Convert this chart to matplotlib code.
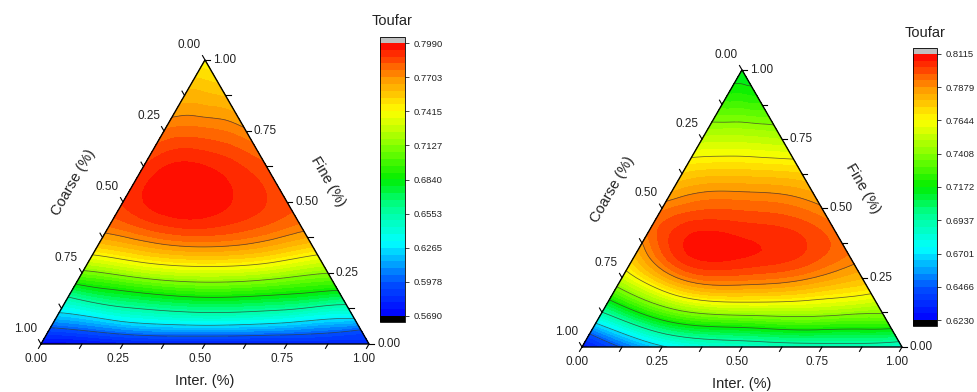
import numpy as np
import matplotlib
matplotlib.use("Agg")
import matplotlib.pyplot as plt
from matplotlib.tri import Triangulation, UniformTriRefiner
from matplotlib.colors import LinearSegmentedColormap
from matplotlib.transforms import offset_copy

plt.rcParams["font.family"] = ["Liberation Sans", "DejaVu Sans"]

# positions along each row of constant Fine: 0 = Coarse edge, 1 = Fine edge
row_t = [0.0, 0.25, 0.5, 0.75, 1.0]

# left panel
left_fine = [0.00, 0.04, 0.10, 0.17, 0.25, 0.35, 0.50, 0.65, 0.80, 0.90]
left_vals = [
    [0.572, 0.577, 0.578, 0.580, 0.584],
    [0.589, 0.602, 0.607, 0.603, 0.593],
    [0.621, 0.641, 0.649, 0.644, 0.633],
    [0.658, 0.678, 0.687, 0.683, 0.673],
    [0.708, 0.723, 0.730, 0.725, 0.713],
    [0.757, 0.768, 0.773, 0.768, 0.756],
    [0.788, 0.797, 0.797, 0.791, 0.784],
    [0.786, 0.792, 0.791, 0.787, 0.781],
    [0.770, 0.771, 0.770, 0.769, 0.766],
    [0.758, 0.758, 0.757, 0.756, 0.755],
]
left_apex = 0.742
left_range = (0.5690, 0.7990)
left_cb_labels = ["0.5690", "0.5978", "0.6265", "0.6553", "0.6840",
                  "0.7127", "0.7415", "0.7703", "0.7990"]

# right panel
right_fine = [0.00, 0.04, 0.10, 0.17, 0.25, 0.35, 0.45, 0.56, 0.68, 0.80, 0.90]
right_vals = [
    [0.628, 0.668, 0.684, 0.688, 0.684],
    [0.643, 0.690, 0.702, 0.706, 0.704],
    [0.679, 0.722, 0.733, 0.736, 0.733],
    [0.717, 0.757, 0.768, 0.765, 0.757],
    [0.755, 0.790, 0.795, 0.790, 0.779],
    [0.783, 0.808, 0.808, 0.804, 0.794],
    [0.795, 0.803, 0.802, 0.800, 0.793],
    [0.783, 0.788, 0.788, 0.787, 0.783],
    [0.765, 0.766, 0.766, 0.765, 0.764],
    [0.743, 0.743, 0.743, 0.742, 0.741],
    [0.724, 0.724, 0.724, 0.723, 0.723],
]
right_apex = 0.712
right_range = (0.6230, 0.8115)
right_cb_labels = ["0.6230", "0.6466", "0.6701", "0.6937", "0.7172",
                   "0.7408", "0.7644", "0.7879", "0.8115"]

H3 = np.sqrt(3) / 2
W, H = 977, 392

cmap = LinearSegmentedColormap.from_list("origin_rainbow", [
    (0.00, "#0000ff"), (0.12, "#0050ff"), (0.27, "#00ffff"),
    (0.40, "#00ff90"), (0.50, "#00ee00"), (0.62, "#80ff00"),
    (0.75, "#ffff00"), (0.87, "#ff9900"), (1.00, "#ff0000")])
cmap.set_under("#000000")
cmap.set_over("#c0c0c0")


def tern_xy(fine, inter):
    return inter + fine / 2, fine * H3


def build(fines, vals, apex):
    xs, ys, zs = [], [], []
    for f, row in zip(fines, vals):
        for t, v in zip(row_t, row):
            x, y = tern_xy(f, t * (1 - f))
            xs.append(x); ys.append(y); zs.append(v)
    xs.append(0.5); ys.append(H3); zs.append(apex)
    return np.array(xs), np.array(ys), np.array(zs)


def draw(fig, rect, crect, fines, vals, apex, vrange, cb_labels, title_y):
    x0, yb, side = rect
    ax = fig.add_axes([x0 / W, (H - yb) / H, side / W, side * H3 / H])
    ax.set_xlim(0, 1)
    ax.set_ylim(0, H3)
    ax.axis("off")

    x, y, z = build(fines, vals, apex)
    tri = Triangulation(x, y)
    tri_r, z_r = UniformTriRefiner(tri).refine_field(z, subdiv=3)
    vmin, vmax = vrange
    z_r = np.clip(z_r, vmin + 1e-6, vmax - 1e-6)
    levels = np.linspace(vmin, vmax, 41)
    cs = ax.tricontourf(tri_r, z_r, levels=levels, cmap=cmap, extend="both")
    ax.tricontour(tri_r, z_r, levels=np.linspace(vmin, vmax, 9)[1:-1],
                  colors="#333333", linewidths=0.55, alpha=0.75)

    # triangle frame
    ax.plot([0, 1, 0.5, 0], [0, 0, H3, 0], color="black", lw=1.0,
            clip_on=False, solid_joinstyle="miter")

    L = 5.0 / side
    tk = dict(fontsize=8.5, color="#222222")
    for k in range(9):
        v = k / 8
        # bottom: Inter
        px, py = tern_xy(0, v)
        ax.plot([px, px - 0.5 * L], [py, py - H3 * L], color="black", lw=0.8, clip_on=False)
        # right: Fine
        qx, qy = tern_xy(v, 1 - v)
        ax.plot([qx, qx + L], [qy, qy], color="black", lw=0.8, clip_on=False)
        # left: Coarse
        rx, ry = tern_xy(v, 0)
        ax.plot([rx, rx - 0.5 * L], [ry, ry + H3 * L], color="black", lw=0.8, clip_on=False)
        if k % 2 == 0:
            ax.text(px, py, f"{v:.2f}", ha="center", va="center",
                    transform=offset_copy(ax.transData, fig, x=-5, y=-15, units="dots"), **tk)
            ax.text(qx, qy, f"{v:.2f}", ha="left", va="center",
                    transform=offset_copy(ax.transData, fig, x=8, y=0, units="dots"), **tk)
            ax.text(rx, ry, f"{1 - v:.2f}", ha="right", va="center",
                    transform=offset_copy(ax.transData, fig, x=-4, y=15, units="dots"), **tk)

    lab = dict(fontsize=10.5, color="#222222", ha="center", va="center",
               rotation_mode="anchor")
    ax.text(0.5, 0, "Inter. (%)",
            transform=offset_copy(ax.transData, fig, x=0, y=-37, units="dots"), **lab)
    ax.text(0.25, H3 / 2, "Coarse (%)", rotation=60,
            transform=offset_copy(ax.transData, fig, x=-50, y=19, units="dots"), **lab)
    ax.text(0.75, H3 / 2, "Fine (%)", rotation=-60,
            transform=offset_copy(ax.transData, fig, x=41, y=20, units="dots"), **lab)

    cx, ctop, cw, cbot = crect
    cax = fig.add_axes([cx / W, (H - cbot) / H, cw / W, (cbot - ctop) / H])
    cb = fig.colorbar(cs, cax=cax, extendrect=True, extendfrac=0.022,
                      ticks=np.linspace(vmin, vmax, 9))
    cb.ax.set_yticklabels(cb_labels)
    cb.ax.tick_params(labelsize=6.8, length=3, width=0.6, colors="#222222")
    cb.outline.set_linewidth(0.6)
    fig.text((cx + cw / 2) / W, (H - title_y) / H, "Toufar", ha="center",
             va="center", fontsize=10.5, color="#222222")


fig = plt.figure(figsize=(W / 100, H / 100), dpi=100)
draw(fig, (41, 344, 328), (380, 37, 25, 322), left_fine, left_vals, left_apex,
     left_range, left_cb_labels, 21)
draw(fig, (582, 347, 320), (913, 48, 24, 326), right_fine, right_vals, right_apex,
     right_range, right_cb_labels, 33)
fig.savefig("out.png", dpi=100)
